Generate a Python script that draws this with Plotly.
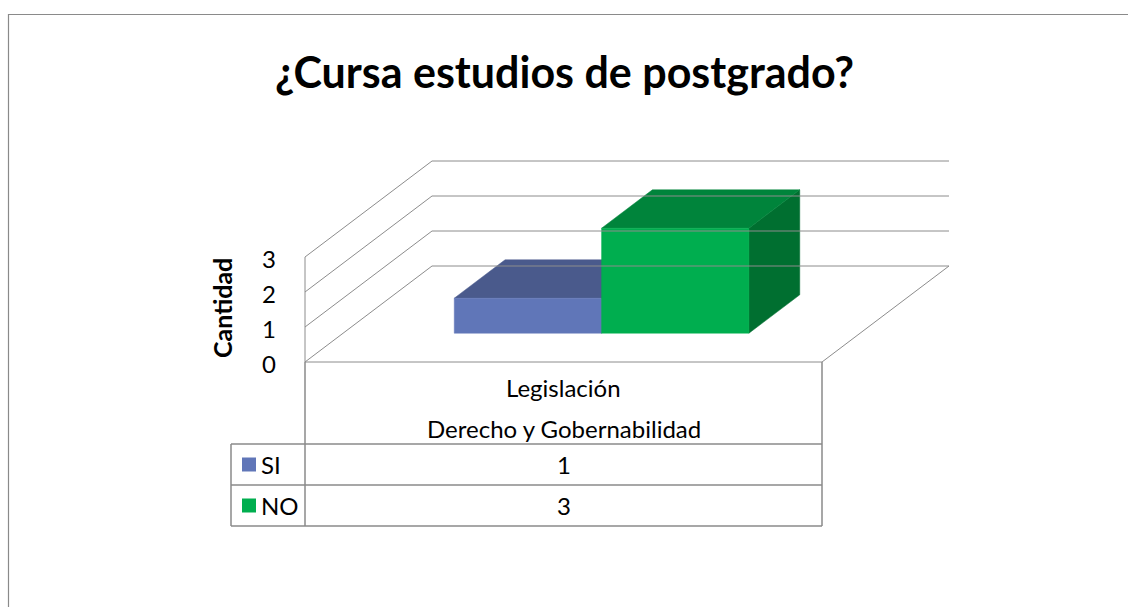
import plotly.graph_objects as go

# ---------------- data ----------------
title_text = "¿Cursa estudios de postgrado?"
axis_title = "Cantidad"
category_lines = ["Legislación", "Derecho y Gobernabilidad"]
series_names = ["SI", "NO"]
si_values = [1]
no_values = [3]
value_ticks = [0, 1, 2, 3]

# ---------------- style ----------------
W, H = 1128, 607
FONT = "Lato"
GRID = "#8c8c8c"
TABLE_LINE = "#8a8a8a"
face_colors = {
    "SI": {"front": "#6076b8", "top": "#4a5a8c", "side": "#3e4c7a"},
    "NO": {"front": "#00ae4f", "top": "#00843b", "side": "#006f30"},
}

# oblique projection of the 3-D plot box onto the page
ORIGIN_X, ORIGIN_Y = 305, 362      # front-left corner of the floor
CAT_W = 517                        # width of one category along x
UNIT_H = 35                        # height of one value unit
DEPTH_DX, DEPTH_DY = 127, -96      # full depth offset
GROUP_W = 0.57                     # share of the category used by the bars
BAR_D0, BAR_D1 = 0.30, 0.70        # bar front / back depth


def proj(c, v, d):
    return ORIGIN_X + c * CAT_W + d * DEPTH_DX, ORIGIN_Y - v * UNIT_H + d * DEPTH_DY


fig = go.Figure()
shapes = []
annotations = []


def line(p, q, color=GRID, width=1):
    shapes.append(dict(type="line", xref="x", yref="y", x0=p[0], y0=p[1], x1=q[0], y1=q[1],
                       line=dict(color=color, width=width)))


vmax = max(value_ticks)

# walls: value gridlines running along the side wall and the back wall
for v in value_ticks:
    a = proj(0, v, 0)
    b = proj(0, v, 1)
    c = proj(1, v, 1)
    line(a, b)
    line(b, c)
    annotations.append(dict(x=a[0] - 27, y=a[1] + 1.5, xref="x", yref="y", text=str(v),
                            showarrow=False, xanchor="right", yanchor="middle",
                            font=dict(family=FONT, size=24, color="#000")))
# front vertical edge of the side wall
line(proj(0, 0, 0), proj(0, vmax, 0))
# floor outline
line(proj(0, 0, 0), proj(1, 0, 0))
line(proj(1, 0, 0), proj(1, 0, 1))

# bars
series_values = {"SI": si_values, "NO": no_values}
n = len(series_names)
bw = GROUP_W / n
for ci in range(len(si_values)):
    start = ci + 0.5 - GROUP_W / 2
    for si, name in enumerate(series_names):
        val = series_values[name][ci]
        x0, x1 = start + si * bw, start + (si + 1) * bw
        faces = {
            "side": [(x1, 0, BAR_D0), (x1, 0, BAR_D1), (x1, val, BAR_D1), (x1, val, BAR_D0)],
            "top": [(x0, val, BAR_D0), (x1, val, BAR_D0), (x1, val, BAR_D1), (x0, val, BAR_D1)],
            "front": [(x0, 0, BAR_D0), (x1, 0, BAR_D0), (x1, val, BAR_D0), (x0, val, BAR_D0)],
        }
        for face in ["side", "top", "front"]:
            pts = [proj(*p) for p in faces[face]]
            xs = [p[0] for p in pts] + [pts[0][0]]
            ys = [p[1] for p in pts] + [pts[0][1]]
            col = face_colors[name][face]
            fig.add_trace(go.Scatter(x=xs, y=ys, mode="lines", fill="toself",
                                     fillcolor=col, line=dict(color=col, width=0.5),
                                     hoverinfo="skip", showlegend=False))

# data table under the plot box
TAB_LEFT = 231
HEAD_BOTTOM = 444
ROW_H = 41
fx0, fy0 = proj(0, 0, 0)
fx1, _ = proj(1, 0, 0)
rows_bottom = HEAD_BOTTOM + ROW_H * n
line((fx0, fy0), (fx0, rows_bottom), TABLE_LINE, 1.5)
line((fx1, fy0), (fx1, rows_bottom), TABLE_LINE, 1.5)
line((TAB_LEFT, HEAD_BOTTOM), (TAB_LEFT, rows_bottom), TABLE_LINE, 1.5)
for k in range(n + 1):
    yy = HEAD_BOTTOM + k * ROW_H
    line((TAB_LEFT, yy), (fx1, yy), TABLE_LINE, 1.5)

cx = (fx0 + fx1) / 2
for li, txt in enumerate(category_lines):
    annotations.append(dict(x=cx, y=387 + li * 41, xref="x", yref="y", text=txt,
                            showarrow=False, xanchor="center", yanchor="middle",
                            font=dict(family=FONT, size=24, color="#000")))
for si, name in enumerate(series_names):
    yc = HEAD_BOTTOM + si * ROW_H + ROW_H / 2
    shapes.append(dict(type="rect", xref="x", yref="y", x0=242, x1=256, y0=yc - 7, y1=yc + 7,
                       fillcolor=face_colors[name]["front"], line=dict(width=0)))
    annotations.append(dict(x=259, y=yc, xref="x", yref="y", text=name, showarrow=False,
                            xanchor="left", yanchor="middle",
                            font=dict(family=FONT, size=24, color="#000")))
    for ci, val in enumerate(series_values[name]):
        annotations.append(dict(x=cx, y=yc, xref="x", yref="y", text=str(val), showarrow=False,
                                xanchor="center", yanchor="middle",
                                font=dict(family=FONT, size=24, color="#000")))

# axis title and chart title
annotations.append(dict(x=222, y=308, xref="x", yref="y", text="<b>%s</b>" % axis_title,
                        textangle=-90, showarrow=False, xanchor="center", yanchor="middle",
                        font=dict(family=FONT, size=25, color="#000")))
annotations.append(dict(x=W / 2, y=71, xref="x", yref="y", text="<b>%s</b>" % title_text,
                        showarrow=False, xanchor="center", yanchor="middle",
                        font=dict(family=FONT, size=43, color="#000")))

# chart frame
shapes.append(dict(type="rect", xref="x", yref="y", x0=8.5, y0=14.5, x1=W + 5, y1=H + 5,
                   line=dict(color="#8a8a8a", width=1.2), fillcolor="rgba(0,0,0,0)"))

fig.update_layout(
    width=W, height=H, margin=dict(l=0, r=0, t=0, b=0),
    paper_bgcolor="white", plot_bgcolor="white",
    xaxis=dict(range=[0, W], visible=False, fixedrange=True),
    yaxis=dict(range=[H, 0], visible=False, fixedrange=True),
    shapes=shapes, annotations=annotations, showlegend=False,
)
fig.write_html("out.html")
